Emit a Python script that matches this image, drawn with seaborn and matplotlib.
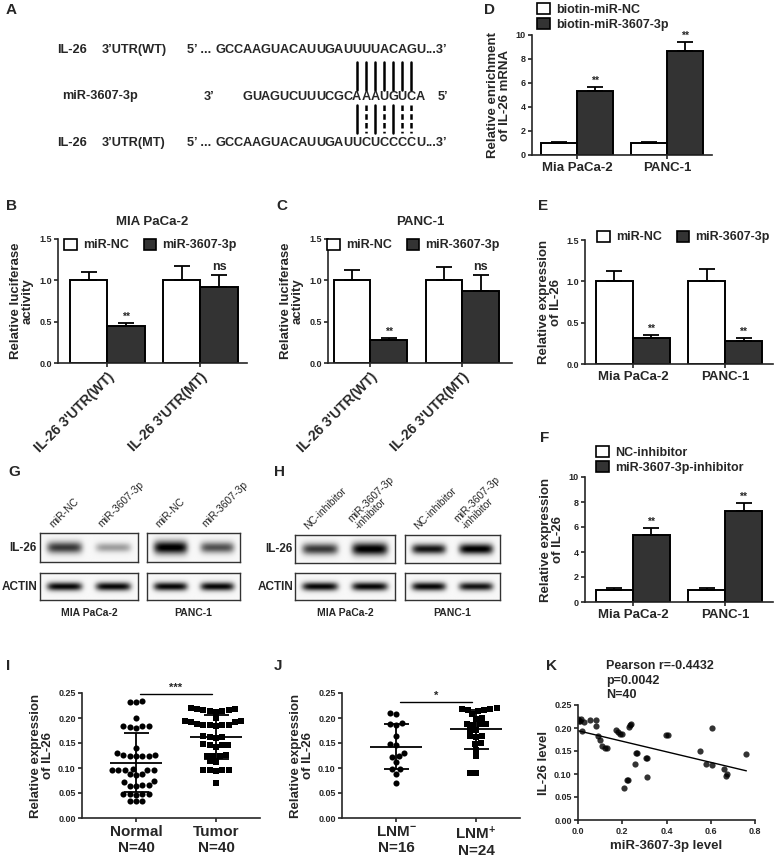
import numpy as np
import pandas as pd
import matplotlib
matplotlib.use("Agg")
import matplotlib.pyplot as plt
from matplotlib.patches import Patch
from matplotlib.ticker import FormatStrFormatter
import seaborn as sns

W, H = 779, 858

# ---------------- data ----------------
# A: binding site
wt_seq = "GCCAAGUACAUUGAUUUUACAGU"
mt_seq = "GCCAAGUACAUUGAUUCUCCCCU"
mir_seq = "GUAGUCUUUCGCAAAUGUCA"   # written 3' -> 5'
site_start = 12                  # first paired base of the miRNA
site_len = 7
utr_offset = 3                   # UTR index = miRNA index + 3

# B / C: luciferase
luc_sites = ["IL-26 3'UTR(WT)", "IL-26 3'UTR(MT)"]
luc_groups = ["miR-NC", "miR-3607-3p"]
mia_luc_nc, mia_luc_nc_err = [1.00, 1.00], [0.10, 0.17]
mia_luc_mir, mia_luc_mir_err = [0.45, 0.92], [0.03, 0.15]
panc_luc_nc, panc_luc_nc_err = [1.00, 1.00], [0.13, 0.16]
panc_luc_mir, panc_luc_mir_err = [0.28, 0.87], [0.02, 0.20]
luc_marks = ["**", "ns"]

# D: biotin pull-down
cells = ["Mia PaCa-2", "PANC-1"]
pull_groups = ["biotin-miR-NC", "biotin-miR-3607-3p"]
pull_nc, pull_nc_err = [1.0, 1.0], [0.08, 0.08]
pull_mir, pull_mir_err = [5.3, 8.65], [0.40, 0.75]

# E: qPCR after mimic
expr_nc, expr_nc_err = [1.0, 1.0], [0.12, 0.15]
expr_mir, expr_mir_err = [0.32, 0.28], [0.03, 0.03]

# F: qPCR after inhibitor
inh_groups = ["NC-inhibitor", "miR-3607-3p-inhibitor"]
inh_nc, inh_nc_err = [1.0, 1.0], [0.10, 0.10]
inh_mir, inh_mir_err = [5.4, 7.3], [0.50, 0.60]
star_marks = ["**", "**"]

# G / H: western blot band strengths (0-1) per lane
g_lanes = ["miR-NC", "miR-3607-3p"]
g_il26_mia, g_il26_panc = [0.75, 0.35], [1.0, 0.65]
g_actin_mia, g_actin_panc = [0.95, 0.95], [0.95, 0.95]
h_lanes = ["NC-inhibitor", "miR-3607-3p\n-inhibitor"]
h_il26_mia, h_il26_panc = [0.75, 1.0], [0.9, 1.0]
h_actin_mia, h_actin_panc = [0.95, 0.95], [0.95, 0.9]
blot_cells = ["MIA PaCa-2", "PANC-1"]

# I: normal vs tumor
normal_vals = [0.233, 0.233, 0.234, 0.200, 0.184, 0.183, 0.185, 0.181, 0.184, 0.141,
               0.130, 0.126, 0.125, 0.124, 0.125, 0.125, 0.126, 0.098, 0.097, 0.096,
               0.097, 0.096, 0.097, 0.088, 0.087, 0.088, 0.074, 0.072, 0.066, 0.065,
               0.064, 0.066, 0.048, 0.048, 0.047, 0.049, 0.048, 0.035, 0.034, 0.035]
tumor_vals = [0.221, 0.219, 0.218, 0.216, 0.214, 0.213, 0.215, 0.217, 0.200, 0.195,
              0.193, 0.192, 0.194, 0.187, 0.186, 0.188, 0.185, 0.187, 0.186, 0.165,
              0.162, 0.160, 0.163, 0.147, 0.146, 0.148, 0.147, 0.143, 0.125, 0.126,
              0.124, 0.125, 0.113, 0.114, 0.097, 0.096, 0.095, 0.097, 0.096, 0.071]
tissue_labels = ["Normal\nN=40", "Tumor\nN=40"]

# J: lymph node metastasis
lnm_neg = [0.211, 0.208, 0.190, 0.188, 0.186, 0.164, 0.148, 0.146, 0.131, 0.124,
           0.122, 0.113, 0.099, 0.098, 0.089, 0.071]
lnm_pos = [0.221, 0.219, 0.218, 0.216, 0.215, 0.217, 0.208, 0.200, 0.198, 0.189,
           0.188, 0.187, 0.188, 0.177, 0.176, 0.164, 0.165, 0.163, 0.150, 0.149,
           0.137, 0.124, 0.091, 0.090]
lnm_labels = ["LNM$^{-}$\nN=16", "LNM$^{+}$\nN=24"]

# K: correlation
mir_level = [0.000, 0.008, 0.026, 0.018, 0.053, 0.083, 0.083, 0.091, 0.098, 0.109,
             0.121, 0.129, 0.173, 0.182, 0.189, 0.197, 0.230, 0.233, 0.238, 0.264,
             0.268, 0.258, 0.220, 0.227, 0.208, 0.306, 0.314, 0.311, 0.397, 0.405,
             0.552, 0.579, 0.606, 0.606, 0.662, 0.670, 0.674, 0.761, 0.012, 0.004]
il26_level = [0.219, 0.215, 0.212, 0.194, 0.217, 0.217, 0.205, 0.183, 0.174, 0.160,
              0.157, 0.156, 0.196, 0.191, 0.187, 0.187, 0.203, 0.207, 0.208, 0.145,
              0.146, 0.122, 0.088, 0.088, 0.069, 0.134, 0.134, 0.094, 0.185, 0.185,
              0.149, 0.122, 0.120, 0.199, 0.110, 0.096, 0.099, 0.144, 0.220, 0.216]
pearson_text = "Pearson r=-0.4432\np=0.0042\nN=40"

# ---------------- style ----------------
sns.set_style("ticks")
plt.rcParams["font.family"] = ["Liberation Sans", "DejaVu Sans"]
plt.rcParams["font.weight"] = "bold"
plt.rcParams["axes.labelweight"] = "bold"
plt.rcParams["axes.linewidth"] = 1.2
plt.rcParams["xtick.major.width"] = 1.2
plt.rcParams["ytick.major.width"] = 1.2
plt.rcParams["xtick.major.size"] = 3
plt.rcParams["ytick.major.size"] = 3
plt.rcParams["xtick.major.pad"] = 2
plt.rcParams["ytick.major.pad"] = 1.5
plt.rcParams["mathtext.fontset"] = "custom"
plt.rcParams["mathtext.rm"] = "Liberation Sans:bold"
plt.rcParams["mathtext.default"] = "rm"

white, dark = "#ffffff", "#333333"

fig = plt.figure(figsize=(W / 100, H / 100), dpi=100)


def box(l, t, r, b):
    return [l / W, 1 - b / H, (r - l) / W, (b - t) / H]


def letter(x, y, s):
    fig.text(x / W, 1 - y / H, s, fontsize=11, fontweight="bold", ha="left", va="center")


def bar_panel(ax, cats, groups, nc, nc_err, mir, mir_err, marks, ymax, ystep, fmt, xlim):
    df = pd.DataFrame({
        "cat": cats * 2,
        "group": [groups[0]] * len(cats) + [groups[1]] * len(cats),
        "val": nc + mir,
    })
    sns.barplot(data=df, x="cat", y="val", hue="group", order=cats, hue_order=groups,
                palette=[white, dark], saturation=1, edgecolor="black", linewidth=1.4,
                width=0.8, errorbar=None, legend=False, ax=ax)
    bars = sorted([b for c in ax.containers for b in c], key=lambda b: b.get_x())
    errs = [e for pair in zip(nc_err, mir_err) for e in pair]
    for k, (b, e) in enumerate(zip(bars, errs)):
        x = b.get_x() + b.get_width() / 2
        h = b.get_height()
        ax.errorbar(x, h, yerr=[[0], [e]], color="black", capsize=6, elinewidth=1.3,
                    capthick=1.3, zorder=1)
        if k % 2 == 1:
            ax.text(x, h + e + ymax * 0.01, marks[k // 2], ha="center", va="bottom",
                    fontsize=9 if marks[k // 2] == "ns" else 7.5)
    ax.set_ylim(0, ymax)
    ax.set_yticks(np.arange(0, ymax + ystep / 2, ystep))
    ax.yaxis.set_major_formatter(FormatStrFormatter(fmt))
    ax.set_xlim(*xlim)
    ax.set_xlabel("")
    ax.tick_params(axis="y", labelsize=6.5)
    ax.tick_params(axis="x", labelsize=9.5)
    sns.despine(ax=ax)


def legend_at(ax, labels, x, y, ncol, loc, fs=9, colspace=1.2):
    handles = [Patch(facecolor=c, edgecolor="black", linewidth=1.2) for c in (white, dark)]
    ax.legend(handles, labels, loc=loc, bbox_to_anchor=(x / W, 1 - y / H),
              bbox_transform=fig.transFigure, ncol=ncol, frameon=False, fontsize=fs,
              borderpad=0, borderaxespad=0, handlelength=1.0, handleheight=1.0,
              handletextpad=0.5, columnspacing=colspace, labelspacing=0.15)


# ---------------- A ----------------
letter(6, 10, "A")
axA = fig.add_axes(box(0, 0, 480, 165))
axA.axis("off")
ppl = 9.1                       # pixels per base letter
mir_x0 = 243


def u(px):
    return (px - mir_x0) / ppl


axA.set_xlim(u(0), u(480))
axA.set_ylim((165 - 50) / 46.5, -50 / 46.5)
pairs = {("A", "U"), ("U", "A"), ("G", "C"), ("C", "G")}
for row, seq, off in ((0, wt_seq, utr_offset), (1, mir_seq, 0), (2, mt_seq, utr_offset)):
    for i, ch in enumerate(seq):
        axA.text(i - off + 0.5, row, ch, ha="center", va="center", fontsize=9.2)
for k in range(site_len):
    m = site_start + k
    x = m + 0.5
    axA.plot([x, x], [0.26, 0.86], color="black", lw=1.8)
    ok = (mir_seq[m], mt_seq[m + utr_offset]) in pairs
    axA.plot([x, x], [1.18, 1.78], color="black", lw=1.8,
             linestyle="-" if ok else (0, (2.2, 1.3)))
for row, name in ((0, "3’UTR(WT)"), (2, "3’UTR(MT)")):
    axA.text(u(57), row, "IL-26", ha="left", va="center", fontsize=9.2)
    axA.text(u(102), row, name, ha="left", va="center", fontsize=9.2)
    axA.text(-utr_offset - 0.1, row, "5’ ... ", ha="right", va="center", fontsize=9.2)
    axA.text(len(wt_seq) - utr_offset + 0.05, row, "...3’", ha="left", va="center", fontsize=9.2)
axA.text(u(62), 1, "miR-3607-3p", ha="left", va="center", fontsize=9.2)
axA.text(u(204), 1, "3’", ha="left", va="center", fontsize=9.2)
axA.text(u(438), 1, "5’", ha="left", va="center", fontsize=9.2)

# ---------------- B / C ----------------
letter(6, 206, "B")
axB = fig.add_axes(box(58, 239, 247, 363))
bar_panel(axB, luc_sites, luc_groups, mia_luc_nc, mia_luc_nc_err, mia_luc_mir,
          mia_luc_mir_err, luc_marks, 1.5, 0.5, "%.1f", (-0.53, 1.5))
axB.set_ylabel("Relative luciferase\nactivity", fontsize=9.5, labelpad=4, linespacing=1.0)
axB.set_title("MIA PaCa-2", fontsize=9.5, fontweight="bold", pad=10)
legend_at(axB, luc_groups, 64, 245, 2, "center left")
plt.setp(axB.get_xticklabels(), rotation=45, ha="right", rotation_mode="anchor", fontsize=10)

letter(276, 206, "C")
axC = fig.add_axes(box(328, 239, 512, 363))
bar_panel(axC, luc_sites, luc_groups, panc_luc_nc, panc_luc_nc_err, panc_luc_mir,
          panc_luc_mir_err, luc_marks, 1.5, 0.5, "%.1f", (-0.46, 1.54))
axC.set_ylabel("Relative luciferase\nactivity", fontsize=9.5, labelpad=4, linespacing=1.0)
axC.set_title("PANC-1", fontsize=9.5, fontweight="bold", pad=10)
legend_at(axC, luc_groups, 327, 245, 2, "center left")
plt.setp(axC.get_xticklabels(), rotation=45, ha="right", rotation_mode="anchor", fontsize=10)

# ---------------- D ----------------
letter(484, 10, "D")
axD = fig.add_axes(box(532, 35, 712, 155))
bar_panel(axD, cells, pull_groups, pull_nc, pull_nc_err, pull_mir, pull_mir_err,
          star_marks, 10, 2, "%d", (-0.5, 1.5))
axD.set_ylabel("Relative enrichment\nof IL-26 mRNA", fontsize=9.5, labelpad=3, linespacing=1.0)
legend_at(axD, pull_groups, 537, 3, 1, "upper left", fs=9)

# ---------------- E ----------------
letter(538, 206, "E")
axE = fig.add_axes(box(585, 240, 773, 364))
bar_panel(axE, cells, luc_groups, expr_nc, expr_nc_err, expr_mir, expr_mir_err,
          star_marks, 1.5, 0.5, "%.1f", (-0.52, 1.52))
axE.set_ylabel("Relative expression\nof IL-26", fontsize=9.5, labelpad=3, linespacing=1.0)
legend_at(axE, luc_groups, 597, 237, 2, "center left")

# ---------------- F ----------------
letter(540, 438, "F")
axF = fig.add_axes(box(585, 477, 773, 602))
bar_panel(axF, cells, inh_groups, inh_nc, inh_nc_err, inh_mir, inh_mir_err,
          star_marks, 10, 2, "%d", (-0.52, 1.52))
axF.set_ylabel("Relative expression\nof IL-26", fontsize=9.5, labelpad=3, linespacing=1.0)
legend_at(axF, inh_groups, 596, 460, 1, "center left")


# ---------------- G / H blots ----------------
def blot(rect, strengths, thick=0.42):
    ax = fig.add_axes(box(*rect))
    n = len(strengths)
    yy = np.linspace(-1, 1, 40)[:, None]
    xx = np.linspace(0, n, 160)[None, :]
    img = np.full((40, 160), 0.03)
    for k, a in enumerate(strengths):
        prof_x = np.exp(-((xx - (k + 0.5)) / 0.36) ** 6)
        prof_y = np.exp(-(yy / (thick * (0.6 + 0.5 * a))) ** 2)
        img += a * prof_x * prof_y
    ax.imshow(img, cmap="gray_r", vmin=0, vmax=1.0, aspect="auto",
              extent=[0, n, -1, 1], interpolation="bilinear")
    ax.set_xticks([])
    ax.set_yticks([])
    for s in ax.spines.values():
        s.set_linewidth(1.0)
        s.set_color("#333333")
    return ax


letter(8, 472, "G")
gA = blot((40, 533, 138, 562), g_il26_mia)
blot((40, 573, 138, 600), g_actin_mia, 0.3)
gB = blot((147, 533, 240, 562), g_il26_panc)
blot((147, 573, 240, 600), g_actin_panc, 0.3)
for ax in (gA, gB):
    for k, lab in enumerate(g_lanes):
        ax.text(k + 0.3, 1.25, lab, rotation=45, rotation_mode="anchor", ha="left",
                va="bottom", fontsize=7.5, fontweight="normal")
fig.text(37 / W, 1 - 548 / H, "IL-26", ha="right", va="center", fontsize=8.5)
fig.text(37 / W, 1 - 587 / H, "ACTIN", ha="right", va="center", fontsize=8.5)
fig.text(89 / W, 1 - 613 / H, blot_cells[0], ha="center", va="center", fontsize=7.5)
fig.text(193 / W, 1 - 613 / H, blot_cells[1], ha="center", va="center", fontsize=7.5)

letter(274, 472, "H")
hA = blot((295, 535, 395, 563), h_il26_mia)
blot((295, 573, 395, 600), h_actin_mia, 0.3)
hB = blot((405, 535, 500, 563), h_il26_panc, 0.35)
blot((405, 573, 500, 600), h_actin_panc, 0.3)
for ax in (hA, hB):
    for k, lab in enumerate(h_lanes):
        ax.text(k + 0.3, 1.25, lab, rotation=45, rotation_mode="anchor", ha="left",
                va="bottom", fontsize=7.5, fontweight="normal", linespacing=1.0)
fig.text(293 / W, 1 - 549 / H, "IL-26", ha="right", va="center", fontsize=8.5)
fig.text(293 / W, 1 - 587 / H, "ACTIN", ha="right", va="center", fontsize=8.5)
fig.text(345 / W, 1 - 613 / H, blot_cells[0], ha="center", va="center", fontsize=7.5)
fig.text(452 / W, 1 - 613 / H, blot_cells[1], ha="center", va="center", fontsize=7.5)


# ---------------- I / J scatter ----------------
def dot_panel(ax, a_vals, b_vals, labels, sig, sig_y):
    df = pd.DataFrame({"group": [labels[0]] * len(a_vals) + [labels[1]] * len(b_vals),
                       "val": a_vals + b_vals})
    for lab, mk in zip(labels, ("o", "s")):
        sns.swarmplot(data=df[df["group"] == lab], x="group", y="val", order=labels,
                      marker=mk, color="black", size=4.4, ax=ax)
    stats = df.groupby("group", sort=False)["val"].agg(["mean", "std"])
    for pos, lab in enumerate(labels):
        m, s = stats.loc[lab, "mean"], stats.loc[lab, "std"]
        ax.hlines(m, pos - 0.33, pos + 0.33, color="black", lw=1.3, zorder=3)
        ax.errorbar(pos, m, yerr=s, color="black", capsize=9, elinewidth=1.3,
                    capthick=1.3, zorder=3)
    ax.plot([0.05, 0.95], [sig_y, sig_y], color="black", lw=1.0, clip_on=False)
    ax.text(0.5, sig_y + 0.002, sig, ha="center", va="bottom", fontsize=8)
    ax.set_ylim(0, 0.25)
    ax.set_yticks(np.arange(0, 0.26, 0.05))
    ax.yaxis.set_major_formatter(FormatStrFormatter("%.2f"))
    ax.set_xlim(-0.675, 1.55)
    ax.set_xlabel("")
    ax.set_ylabel("Relative expression\nof IL-26", fontsize=9.5, labelpad=3, linespacing=1.0)
    ax.tick_params(axis="y", labelsize=6.5)
    ax.tick_params(axis="x", labelsize=11)
    sns.despine(ax=ax)


letter(6, 666, "I")
axI = fig.add_axes(box(82, 693, 260, 818))
dot_panel(axI, normal_vals, tumor_vals, tissue_labels, "***", 0.249)

letter(274, 666, "J")
axJ = fig.add_axes(box(342, 693, 520, 818))
dot_panel(axJ, lnm_neg, lnm_pos, lnm_labels, "*", 0.233)

# ---------------- K ----------------
letter(546, 666, "K")
axK = fig.add_axes(box(578, 705, 755, 820))
sns.regplot(x=mir_level, y=il26_level, ci=None, ax=axK,
            scatter_kws=dict(s=20, color="black", linewidths=0),
            line_kws=dict(color="black", lw=1.0))
axK.set_xlim(0, 0.8)
axK.set_ylim(0, 0.25)
axK.set_xticks(np.arange(0, 0.81, 0.2))
axK.set_yticks(np.arange(0, 0.26, 0.05))
axK.xaxis.set_major_formatter(FormatStrFormatter("%.1f"))
axK.yaxis.set_major_formatter(FormatStrFormatter("%.2f"))
axK.tick_params(labelsize=6.5)
axK.set_xlabel("miR-3607-3p level", fontsize=9.5, labelpad=3)
axK.set_ylabel("IL-26 level", fontsize=9.5, labelpad=3)
sns.despine(ax=axK)
fig.text(606 / W, 1 - 660 / H, pearson_text, ha="left", va="top", fontsize=9, linespacing=1.3)

fig.savefig("out.png", dpi=100, facecolor="white")
